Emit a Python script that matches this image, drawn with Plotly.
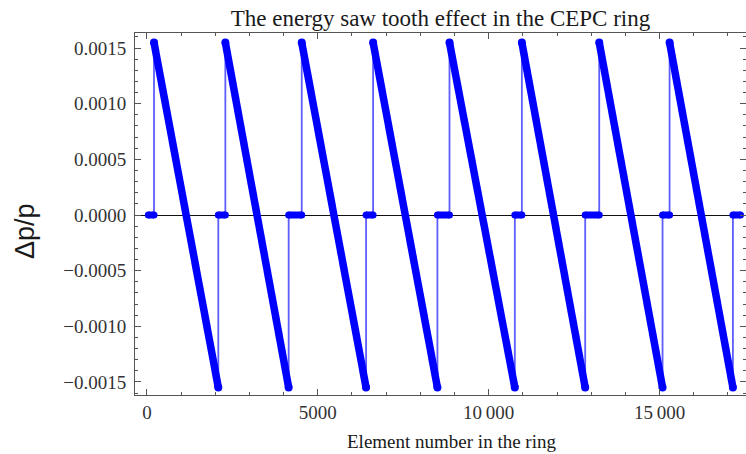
import plotly.graph_objects as go

# ---- data ----
peak_x = [206, 2294, 4529, 6618, 8853, 10971, 13235, 15294]
trough_x = [2088, 4147, 6412, 8500, 10765, 12824, 15088, 17147]
flat_start = [40, 2088, 4147, 6412, 8500, 10765, 12824, 15088, 17147]
flat_end = [206, 2294, 4529, 6618, 8853, 10971, 13235, 15294, 17370]
peak_val = 0.00155
trough_val = -0.00155

x_tickvals = [0, 5000, 10000, 15000]
x_ticktext = ["0", "5000", "10\u2009000", "15\u2009000"]
y_tickvals = [-0.0015, -0.0010, -0.0005, 0.0, 0.0005, 0.0010, 0.0015]
y_ticktext = ["\u22120.0015", "\u22120.0010", "\u22120.0005", "0.0000", "0.0005", "0.0010", "0.0015"]

# thin connecting line through all vertices
thin_x, thin_y = [], []
for i in range(len(peak_x)):
    thin_x += [flat_start[i], flat_end[i], peak_x[i], trough_x[i]]
    thin_y += [0, 0, peak_val, trough_val]
thin_x += [flat_start[-1], flat_end[-1]]
thin_y += [0, 0]

ramp_x, ramp_y = [], []
for px_, tx_ in zip(peak_x, trough_x):
    ramp_x += [px_, tx_, None]
    ramp_y += [peak_val, trough_val, None]

flat_x, flat_y = [], []
for s, e in zip(flat_start, flat_end):
    flat_x += [s, e, None]
    flat_y += [0, 0, None]

BLUE = "#0000ff"

fig = go.Figure()
fig.add_trace(go.Scatter(x=thin_x, y=thin_y, mode="lines",
                         line=dict(color="rgba(40,40,255,0.75)", width=1.8),
                         hoverinfo="skip", showlegend=False))
fig.add_trace(go.Scatter(x=flat_x, y=flat_y, mode="lines+markers",
                         line=dict(color=BLUE, width=7),
                         marker=dict(color=BLUE, size=7),
                         showlegend=False))
fig.add_trace(go.Scatter(x=ramp_x, y=ramp_y, mode="lines+markers",
                         line=dict(color=BLUE, width=7.5),
                         marker=dict(color=BLUE, size=8),
                         showlegend=False))

FRAME = "#555555"
TICKFONT = dict(family="Liberation Serif", size=19, color="#333333")

fig.update_xaxes(range=[-350, 17530], showgrid=False, zeroline=False,
                 showline=True, linecolor=FRAME, linewidth=1, mirror="ticks",
                 ticks="inside", ticklen=6, tickcolor=FRAME, tickwidth=1,
                 tickmode="array", tickvals=x_tickvals, ticktext=x_ticktext,
                 tickfont=TICKFONT,
                 minor=dict(tickmode="linear", tick0=0, dtick=1000, ticks="inside",
                            ticklen=3, tickcolor=FRAME, showgrid=False))
fig.update_yaxes(range=[-0.001617, 0.001635], showgrid=False,
                 zeroline=True, zerolinecolor="#111111", zerolinewidth=1,
                 showline=True, linecolor=FRAME, linewidth=1, mirror="ticks",
                 ticks="inside", ticklen=6, tickcolor=FRAME, tickwidth=1,
                 tickmode="array", tickvals=y_tickvals, ticktext=y_ticktext,
                 tickfont=TICKFONT, ticklabelstandoff=4,
                 minor=dict(tickmode="linear", tick0=0, dtick=0.0001, ticks="inside",
                            ticklen=3, tickcolor=FRAME, showgrid=False))

fig.update_layout(
    width=746, height=454,
    margin=dict(l=135, r=0, t=33, b=59),
    paper_bgcolor="white", plot_bgcolor="white",
    title=dict(text="The energy saw tooth effect in the CEPC ring",
               font=dict(family="Liberation Serif", size=23, color="#1a1a1a"),
               x=0.5, xref="paper", xanchor="center",
               y=1 - 18 / 454, yref="container", yanchor="middle"),
    annotations=[
        dict(text="Element number in the ring", xref="paper", yref="paper",
             x=(451 - 135) / 611, y=(395 - 441) / 362, xanchor="center", yanchor="middle",
             showarrow=False,
             font=dict(family="Liberation Serif", size=19, color="#1a1a1a")),
        dict(text="\u0394p/p", xref="paper", yref="paper",
             x=(25 - 135) / 611, y=(395 - 231) / 362, xanchor="center", yanchor="middle",
             textangle=-90, showarrow=False,
             font=dict(family="Liberation Sans", size=27, color="#1a1a1a")),
    ],
)

fig.write_html("out.html")
